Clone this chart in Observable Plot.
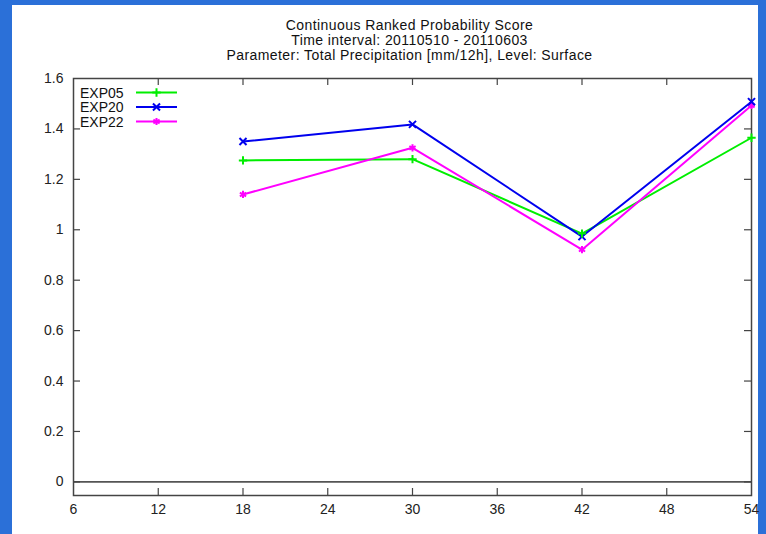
<!DOCTYPE html>
<html>
<head>
<meta charset="utf-8">
<script src="https://cdn.jsdelivr.net/npm/d3@7"></script>
<script src="https://cdn.jsdelivr.net/npm/@observablehq/plot@0.6"></script>
<style>
  html, body { margin: 0; padding: 0; width: 766px; height: 534px; overflow: hidden; background: #2b70d8; }
  #panel { position: absolute; left: 12px; top: 5px; width: 746px; height: 529px; background: #fff; }
  #chart { position: absolute; left: 0; top: 0; }
</style>
</head>
<body>
<div id="panel"></div>
<div id="chart"></div>
<script>
const leadTimes = [18, 30, 42, 54];
const seriesNames = ["EXP05", "EXP20", "EXP22"];
const exp05 = [1.275, 1.28, 0.985, 1.365];
const exp20 = [1.35, 1.418, 0.973, 1.508];
const exp22 = [1.14, 1.325, 0.921, 1.493];
const xTicks = [6, 12, 18, 24, 30, 36, 42, 48, 54];
const yTicks = [0, 0.2, 0.4, 0.6, 0.8, 1, 1.2, 1.4, 1.6];
const titleLines = [
  "Continuous Ranked Probability Score",
  "Time interval: 20110510 - 20110603",
  "Parameter: Total Precipitation [mm/12h], Level: Surface"
];
const colors = ["#00ee00", "#0000ee", "#ff00ff"];
const symbols = ["plus", "times", "asterisk"];
const markerR = [2.8, 3.3, 3.4];

const values = [exp05, exp20, exp22];
const data = [];
seriesNames.forEach((s, i) => leadTimes.forEach((t, j) => data.push({series: s, t, v: values[i][j], r: markerR[i]})));

const W = 766, H = 534;
const mL = 73, mR = 15, mT = 78, mB = 39;
const yMin = -0.054, yMax = 1.6;
const pxPerY = (H - mT - mB) / (yMax - yMin);
const pxPerX = (W - mL - mR) / (54 - 6);
const tickLen = 7;
const frameColor = "#444";

const innerX = xTicks.slice(1, -1);
const innerY = yTicks.slice(0, -1);
const yFmt = d => String(+(+d).toFixed(1));

const plot = Plot.plot({
  width: W, height: H,
  marginLeft: mL, marginRight: mR, marginTop: mT, marginBottom: mB,
  style: {background: "transparent", fontFamily: "Liberation Sans, Arial, sans-serif", fontSize: "14px", color: "#222"},
  x: {domain: [6, 54], label: null},
  y: {domain: [yMin, yMax], label: null},
  r: {type: "identity"},
  color: {domain: seriesNames, range: colors},
  symbol: {domain: seriesNames, range: symbols},
  marks: [
    Plot.axisX({ticks: xTicks, tickSize: 0, tickPadding: 9, fontSize: 14, label: null, tickFormat: d => String(d)}),
    Plot.axisY({ticks: yTicks, tickSize: 0, tickPadding: 10, fontSize: 14, label: null, tickFormat: yFmt}),
    Plot.ruleY([0], {stroke: "#555", strokeWidth: 1.6}),
    Plot.ruleX(innerX, {y1: yMin, y2: yMin + tickLen / pxPerY, stroke: frameColor, strokeWidth: 1.2}),
    Plot.ruleX(innerX, {y1: yMax, y2: yMax - tickLen / pxPerY, stroke: frameColor, strokeWidth: 1.2}),
    Plot.ruleY(innerY, {x1: 6, x2: 6 + tickLen / pxPerX, stroke: frameColor, strokeWidth: 1.2}),
    Plot.ruleY(innerY, {x1: 54, x2: 54 - tickLen / pxPerX, stroke: frameColor, strokeWidth: 1.2}),
    Plot.frame({stroke: frameColor, strokeWidth: 1.5}),
    Plot.line(data, {x: "t", y: "v", z: "series", stroke: "series", strokeWidth: 2}),
    Plot.dot(data, {x: "t", y: "v", symbol: "series", stroke: "series", r: "r", strokeWidth: 2}),
    ...titleLines.map((line, i) => Plot.text([line], {
      text: d => d, frameAnchor: "top", dx: -3, dy: -58 + i * 15,
      fontSize: 14, fill: "#111"
    }))
  ]
});

document.getElementById("chart").appendChild(plot);

const svg = d3.select(plot);
// widen title glyph spacing to match the reference's wide title lines
svg.selectAll("text").filter(function () { return titleLines.includes(this.textContent); })
  .attr("letter-spacing", "0.42px");

// legend (inside top-left)
const lg = svg.append("g").attr("text-anchor", "start");
const symMap = {plus: d3.symbolPlus, times: d3.symbolTimes, asterisk: d3.symbolAsterisk};
seriesNames.forEach((s, i) => {
  const y = 92.5 + i * 14.5;
  lg.append("text").attr("x", 80).attr("y", y).attr("dy", "0.36em")
    .attr("text-anchor", "start")
    .attr("font-family", "Liberation Sans, Arial, sans-serif")
    .attr("font-size", 14).attr("fill", "#111").text(s);
  lg.append("line").attr("x1", 136).attr("x2", 177).attr("y1", y).attr("y2", y)
    .attr("stroke", colors[i]).attr("stroke-width", 2);
  lg.append("path").attr("transform", `translate(156.5,${y})`)
    .attr("d", d3.symbol(symMap[symbols[i]], Math.PI * markerR[i] * markerR[i])())
    .attr("fill", "none").attr("stroke", colors[i]).attr("stroke-width", 2);
});
</script>
</body>
</html>
